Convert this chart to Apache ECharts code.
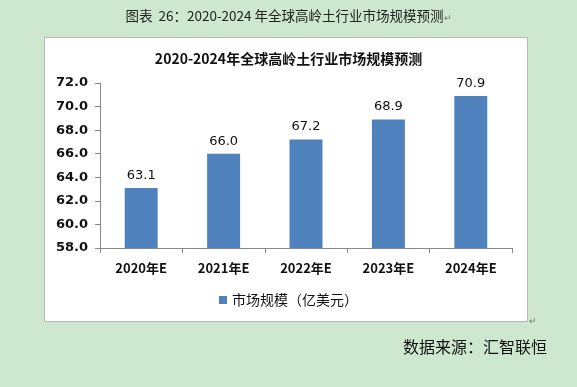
<!DOCTYPE html>
<html><head><meta charset="utf-8">
<script src="https://cdn.jsdelivr.net/npm/echarts@6/dist/echarts.min.js"></script>
<style>html,body{margin:0;padding:0;background:#cde8cf;}#c{width:577px;height:387px;}</style>
</head><body><div id="c"></div>
<script>
const categories = ['2020年E','2021年E','2022年E','2023年E','2024年E'];
const marketSize = [63.1, 66.0, 67.2, 68.9, 70.9];
const seriesName = '市场规模（亿美元）';
const chartTitle = '2020-2024年全球高岭土行业市场规模预测';
const caption = '图表  26：2020-2024 年全球高岭土行业市场规模预测';
const source = '数据来源：汇智联恒';

const chart = echarts.init(document.getElementById('c'));
const cjk = '"Noto Sans CJK SC", sans-serif';
chart.setOption({
  backgroundColor: '#cde8cf',
  animation: false,
  graphic: [
    {type:'rect', z:-10, shape:{x:44.5,y:37.5,width:483,height:284}, style:{fill:'#fff',stroke:'#b8b8b8',lineWidth:1}},
    {type:'text', left:'center', top:9, style:{text:'{a|'+caption+'}{b|↵}',
      rich:{a:{fill:'#222', fontFamily:cjk, fontSize:13.5}, b:{fill:'#777', fontFamily:cjk, fontSize:9, verticalAlign:'bottom'}}}},
    {type:'text', left:529, top:316, style:{text:'↵', fill:'#777', font:'9px '+cjk}},
    {type:'text', left:403, top:339, style:{text:source, fill:'#111', font:'16px '+cjk}}
  ],
  title: {text: chartTitle, left:'center', top:47,
    textStyle:{fontFamily:cjk, fontSize:14, fontWeight:'bold', color:'#111'}},
  legend: {data:[seriesName], bottom:75, left:'center', icon:'rect', itemWidth:8, itemHeight:8, itemGap:4,
    textStyle:{fontFamily:cjk, fontSize:14, color:'#111'}},
  grid: {left:100, right:65, top:83, bottom:139, containLabel:false},
  xAxis: {type:'category', data:categories,
    axisLine:{lineStyle:{color:'#888'}}, axisTick:{show:true, length:5, lineStyle:{color:'#888'}},
    axisLabel:{color:'#111', fontFamily:cjk, fontSize:13, fontWeight:'bold', margin:14}},
  yAxis: {type:'value', min:58, max:72, interval:2,
    splitLine:{show:false},
    axisLine:{show:true, lineStyle:{color:'#888'}}, axisTick:{show:true, length:5, lineStyle:{color:'#888'}},
    axisLabel:{color:'#111', fontFamily:'"DejaVu Sans", sans-serif', fontSize:13, fontWeight:'bold', margin:12, formatter:v=>v.toFixed(1)}},
  series: [{name:seriesName, type:'bar', data:marketSize, barWidth:'40%',
    itemStyle:{color:'#4f81bd'},
    label:{show:true, position:'top', distance:6, color:'#111', fontFamily:'"DejaVu Sans", sans-serif', fontSize:13, formatter:p=>p.value.toFixed(1)}}]
});
</script></body></html>
